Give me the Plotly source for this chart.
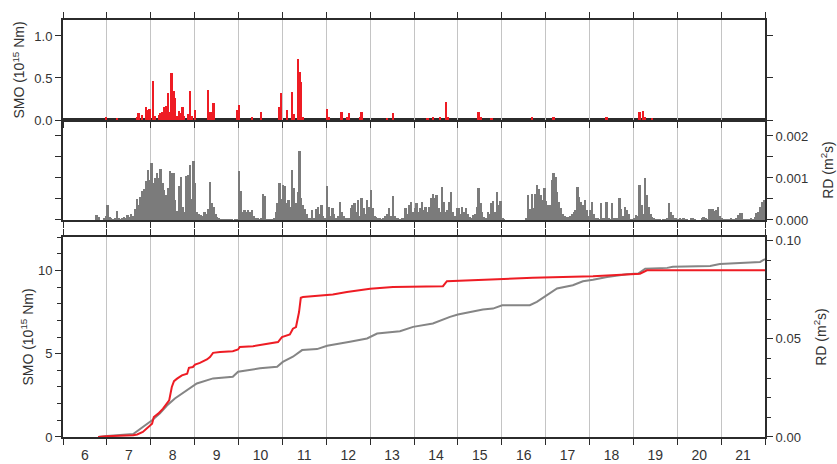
import plotly.graph_objects as go

# ---------------- data ----------------
day_labels = [str(d) for d in range(6, 22)]
day_starts = list(range(6, 22))

# hourly RD values per day (units of 1e-4 m^2 s), 24 hourly bins each
rd_d06 = [0, 0, 0, 0, 0, 0, 0, 0, 0, 0, 0, 0, 0, 0, 0, 0, 0, 0, 1.3, 0.6, 0, 0, 0.5, 1.0]
rd_d07 = [3.5, 0.8, 0.3, 0.2, 0.5, 2.1, 0.5, 0.2, 0.3, 0.6, 0.4, 1.2, 0.6, 1.5, 1.0, 2.5, 5.0, 3.5, 5.5, 7.0, 7.3, 9.3, 11.9, 9.5]
rd_d08 = [13.5, 8.7, 9.9, 11.1, 10.0, 12.1, 8.7, 7.1, 6.0, 7.5, 11.7, 11.3, 11.3, 4.8, 2.2, 8.0, 10.3, 3.0, 2.0, 10.5, 10.7, 13.0, 5.0, 14.1]
rd_d09 = [8.7, 2.0, 1.5, 1.2, 1.0, 1.8, 1.5, 2.5, 9.0, 4.0, 3.0, 1.5, 0.8, 0.5, 0.2, 0.2, 0.1, 0.1, 0.1, 0.1, 0.1, 0, 0.1, 0.2]
rd_d10 = [11.7, 7.0, 2.0, 2.4, 2.0, 2.4, 2.0, 2.3, 1.0, 0.5, 0.3, 0.2, 0.3, 6.1, 5.8, 0.2, 0.1, 0.1, 0.1, 0.5, 2.0, 4.0, 8.7, 5.0]
rd_d11 = [8.3, 8.0, 4.0, 4.8, 3.0, 12.0, 7.5, 4.0, 6.7, 16.4, 5.2, 3.6, 2.5, 1.5, 0.5, 0.5, 2.3, 0.5, 2.5, 3.2, 1.5, 3.5, 1.0, 0.5]
rd_d12 = [8.1, 3.0, 1.0, 2.8, 1.5, 0.5, 1.0, 4.4, 2.0, 1.0, 0.5, 0.3, 0.5, 2.8, 3.5, 4.0, 2.0, 4.8, 1.0, 5.2, 2.8, 1.5, 4.8, 3.0]
rd_d13 = [7.1, 2.8, 1.0, 0.8, 0.5, 0.3, 0.2, 0.3, 1.0, 1.5, 2.8, 1.0, 5.6, 1.0, 0.5, 0.3, 0.2, 0.5, 0.5, 2.8, 1.5, 3.5, 4.4, 2.0]
rd_d14 = [2.8, 4.0, 1.8, 2.8, 4.4, 2.4, 3.2, 2.0, 3.2, 5.3, 6.3, 5.3, 6.0, 2.8, 2.0, 7.9, 4.4, 2.0, 2.4, 4.4, 6.7, 2.0, 1.0, 2.8]
rd_d15 = [2.8, 1.5, 3.0, 2.0, 2.8, 1.5, 0.8, 0.5, 1.2, 1.5, 3.0, 7.7, 4.0, 2.0, 0.8, 0.5, 2.0, 1.5, 4.0, 4.5, 2.0, 6.7, 3.6, 4.5]
rd_d16 = [0.3, 0.2, 0, 0, 0, 0, 0, 0, 0, 0, 0, 0, 0, 0.5, 6.0, 2.5, 6.1, 2.8, 6.3, 8.3, 7.3, 6.0, 4.8, 7.5]
rd_d17 = [4.5, 3.6, 3.6, 9.5, 11.1, 10.3, 6.7, 4.4, 2.8, 1.5, 1.0, 0.8, 0.8, 1.0, 1.5, 2.0, 2.4, 7.9, 5.5, 4.4, 3.5, 4.8, 2.4, 1.0]
rd_d18 = [2.4, 4.4, 1.5, 0.5, 0.3, 0.2, 4.0, 0.5, 0.5, 4.4, 0.3, 0.2, 4.0, 0.5, 0.3, 0.5, 5.2, 2.5, 1.0, 3.2, 2.4, 1.5, 0.2, 0.1]
rd_d19 = [0.5, 1.3, 1.0, 8.3, 3.6, 1.5, 9.9, 6.0, 3.0, 1.5, 0.8, 0.3, 0.2, 0.1, 0.1, 0, 0.1, 0.2, 0.3, 4.0, 2.0, 1.2, 0.5, 0.3]
rd_d20 = [0.2, 0.5, 0.1, 0.4, 0.2, 0.1, 0, 0.4, 0.3, 0.1, 0, 0, 0, 0.3, 0.6, 0.4, 0.1, 2.6, 2.5, 2.6, 2.2, 2.4, 3.2, 1.0]
rd_d21 = [0.3, 0.2, 0.1, 0.2, 0.1, 0.3, 0.2, 0.1, 0.5, 1.3, 1.6, 1.7, 0.2, 0.1, 0.1, 0.2, 0.3, 0.2, 0.8, 1.6, 2.0, 3.2, 4.4, 4.8]
rd_hourly = [rd_d06, rd_d07, rd_d08, rd_d09, rd_d10, rd_d11, rd_d12, rd_d13,
             rd_d14, rd_d15, rd_d16, rd_d17, rd_d18, rd_d19, rd_d20, rd_d21]

# hourly SMO (10^15 Nm) bars: day, hour, value
smo_day = [6, 7, 7, 7, 7, 7, 7, 7,
           8, 8, 8, 8, 8, 8, 8, 8, 8, 8, 8, 8, 8, 8, 8, 8, 8, 8, 8, 8,
           9, 9, 9, 9, 9, 9,
           10, 10, 10, 10, 10,
           11, 11, 11, 11, 11, 11, 11,
           12, 12, 12, 12, 12, 12, 12,
           13, 13,
           14, 14, 14, 14, 14,
           15, 15, 15,
           16, 17, 18,
           19, 19, 19, 19]
smo_hour = [23, 5, 16, 17, 19, 21, 22, 23,
            1, 2, 4, 5, 6, 7, 8, 9, 10, 11, 12, 13, 14, 15, 16, 17, 18, 20, 21, 22,
            0, 7, 8, 9, 10, 23,
            0, 7, 12, 22, 23,
            2, 5, 6, 8, 9, 10, 11,
            0, 1, 8, 11, 12, 18, 19,
            9, 12,
            7, 10, 14, 17, 18,
            11, 12, 18,
            16, 4, 9,
            3, 5, 6, 10]
smo_val = [0.04, 0.02, 0.04, 0.08, 0.06, 0.16, 0.12, 0.13,
           0.47, 0.05, 0.06, 0.08, 0.10, 0.15, 0.17, 0.32, 0.10, 0.56, 0.35, 0.26, 0.05, 0.11, 0.08, 0.16, 0.05, 0.07, 0.35, 0.05,
           0.12, 0.36, 0.10, 0.10, 0.20, 0.12,
           0.18, 0.03, 0.10, 0.15, 0.32,
           0.12, 0.33, 0.07, 0.73, 0.57, 0.45, 0.04,
           0.13, 0.04, 0.09, 0.04, 0.08, 0.04, 0.10,
           0.02, 0.08,
           0.02, 0.03, 0.04, 0.21, 0.03,
           0.10, 0.03, 0.02,
           0.04, 0.03, 0.03,
           0.09, 0.11, 0.03, 0.02]

# cumulative SMO (10^15 Nm)
cum_smo_t = [6.80, 7.00, 7.60, 7.69, 7.82, 8.03, 8.07, 8.17, 8.28, 8.37, 8.42, 8.48, 8.53, 8.60,
             8.71, 8.83, 8.87, 8.96, 9.01, 9.12, 9.28, 9.35, 9.42, 9.58, 9.87, 9.99, 10.03,
             10.33, 10.56, 10.90, 10.99, 11.17, 11.24, 11.31, 11.38, 11.42, 11.47, 11.97,
             12.15, 12.47, 12.77, 13.00, 13.52, 14.66, 14.75, 15.57, 16.71, 18.08, 19.02,
             19.15, 19.31, 22.0]
cum_smo_v = [0, 0.05, 0.1, 0.15, 0.3, 0.8, 1.2, 1.4, 1.7, 2.0, 2.2, 3.0, 3.35, 3.5,
             3.7, 3.8, 4.15, 4.2, 4.35, 4.45, 4.65, 4.8, 5.05, 5.1, 5.15, 5.25, 5.4,
             5.45, 5.55, 5.7, 6.0, 6.15, 6.5, 6.6, 7.5, 8.35, 8.4, 8.5,
             8.55, 8.7, 8.8, 8.9, 9.0, 9.05, 9.35, 9.45, 9.55, 9.65, 9.75,
             9.8, 10.0, 10.0]

# cumulative RD (m^2 s)
cum_rd_t = [6.80, 7.00, 7.60, 7.82, 8.03, 8.21, 8.37, 8.55, 8.83, 9.05, 9.42, 9.87, 9.99,
            10.49, 10.88, 11.01, 11.24, 11.45, 11.79, 12.02, 12.54, 12.93, 13.16, 13.68,
            13.98, 14.43, 14.82, 15.00, 15.57, 15.80, 16.01, 16.64, 16.80, 17.03, 17.26,
            17.62, 17.85, 18.08, 18.40, 18.85, 19.11, 19.27, 19.77, 19.90, 20.75, 20.97,
            21.66, 21.89, 22.0]
cum_rd_v = [0, 0.0005, 0.0015, 0.005, 0.0085, 0.012, 0.016, 0.0196, 0.0239, 0.0272, 0.0298, 0.0306, 0.0332,
            0.0349, 0.0357, 0.0382, 0.0408, 0.0442, 0.0447, 0.0464, 0.0484, 0.0501, 0.0526, 0.0538,
            0.056, 0.0577, 0.0611, 0.0623, 0.0648, 0.0653, 0.067, 0.067, 0.0687, 0.072, 0.0755,
            0.0772, 0.0792, 0.08, 0.0814, 0.0827, 0.0831, 0.0856, 0.086, 0.0866, 0.087, 0.088,
            0.0885, 0.089, 0.0905]

# ---------------- styling ----------------
RED = "#ee1c24"
GRAY_BAR = "#7b7b7b"
GRAY_LINE = "#858585"
AX = "#2b2b2b"
GRID = "#c4c4c4"
FONT = "Liberation Sans, Arial, sans-serif"
XR = [6, 22]

rd_x, rd_y = [], []
for d, vals in zip(day_starts, rd_hourly):
    for h, v in enumerate(vals):
        rd_x.append(d + (h + 0.5) / 24)
        rd_y.append(v * 1e-4)

smo_x = [d + (h + 0.5) / 24 for d, h in zip(smo_day, smo_hour)]

fig = go.Figure()
fig.add_trace(go.Bar(x=smo_x, y=smo_val, width=1 / 24, xaxis="x3", yaxis="y4",
                     marker=dict(color=RED, line=dict(width=0)), showlegend=False))
fig.add_trace(go.Bar(x=rd_x, y=rd_y, width=1 / 24, xaxis="x2", yaxis="y2",
                     marker=dict(color=GRAY_BAR, line=dict(width=0)), showlegend=False))
fig.add_trace(go.Scatter(x=cum_rd_t, y=cum_rd_v, mode="lines", xaxis="x", yaxis="y",
                         line=dict(color=GRAY_LINE, width=2), showlegend=False))
fig.add_trace(go.Scatter(x=cum_smo_t, y=cum_smo_v, mode="lines", xaxis="x", yaxis="y3",
                         line=dict(color=RED, width=2), showlegend=False))

tickfont = dict(family=FONT, size=13, color="#333333")
xtickfont = dict(family=FONT, size=14, color="#333333")
titlefont = dict(family=FONT, size=14, color="#333333")

# major (labelled) ticks sit mid-day, invisible; minor ticks at day boundaries carry grid
common_x = dict(range=XR, tickvals=[d + 0.5 for d in day_starts], ticktext=day_labels,
                ticks="outside", ticklen=4, tickcolor="rgba(0,0,0,0)",
                showline=True, linecolor=AX, linewidth=2, showgrid=False, zeroline=False,
                mirror="allticks", tickfont=xtickfont, automargin=False,
                minor=dict(dtick=1, tick0=0, ticks="outside", ticklen=6, tickcolor=AX,
                           tickwidth=1, showgrid=True, gridcolor=GRID, gridwidth=1))

bot = [0, 0.4796]
mid = [0.5204, 0.7602]
top = [0.7602, 1.0]

fig.update_layout(
    width=837, height=464,
    margin=dict(l=63, r=72, t=20, b=27, autoexpand=False),
    paper_bgcolor="white", plot_bgcolor="white",
    bargap=0, barmode="overlay",
    xaxis=dict(common_x, anchor="y", domain=[0, 1], showticklabels=True),
    xaxis2=dict(common_x, anchor="y2", domain=[0, 1], mirror=True, showticklabels=False),
    xaxis3=dict(common_x, anchor="y4", domain=[0, 1], showticklabels=False),
    # bottom panel: RD (right, base) and SMO (left, overlay)
    yaxis=dict(domain=bot, anchor="x", side="right", range=[0, 0.1017], automargin=False,
               tickvals=[0, 0.05, 0.10], ticktext=["0.00", "0.05", "0.10"],
               ticks="outside", ticklen=6, tickcolor=AX, showline=True, linecolor=AX, linewidth=2,
               minor=dict(dtick=0.01, tick0=0, ticks="outside", ticklen=4, tickcolor=AX, showgrid=False),
               showgrid=False, zeroline=False, tickfont=tickfont,
               title=dict(text="RD (m<sup>2</sup>s)", font=titlefont, standoff=16)),
    yaxis3=dict(overlaying="y", anchor="x", side="left", range=[0, 12.0], automargin=False,
                tickvals=[0, 5, 10], ticktext=["0", "5", "10"],
                ticks="outside", ticklen=6, tickcolor=AX, showline=True, linecolor=AX, linewidth=2,
                minor=dict(dtick=1, tick0=0, ticks="outside", ticklen=4, tickcolor=AX, showgrid=False),
                showgrid=False, zeroline=False, tickfont=tickfont,
                title=dict(text="SMO (10<sup>15</sup> Nm)", font=titlefont, standoff=1)),
    # middle panel: RD bars
    yaxis2=dict(domain=mid, anchor="x2", side="right", range=[0, 0.00238], automargin=False,
                tickvals=[0, 0.001, 0.002], ticktext=["0.000", "0.001", "0.002"],
                ticks="outside", ticklen=6, tickcolor=AX, showline=True, linecolor=AX, linewidth=2,
                mirror="allticks",
                minor=dict(tickvals=[0.0005, 0.0015], ticks="outside", ticklen=6, tickcolor=AX, showgrid=False),
                showgrid=False, zeroline=False, tickfont=tickfont,
                title=dict(text="RD (m<sup>2</sup>s)", font=titlefont, standoff=16)),
    # top panel: SMO bars
    yaxis4=dict(domain=top, anchor="x3", side="left", range=[0, 1.19], automargin=False,
                tickvals=[0, 0.5, 1.0], ticktext=["0.0", "0.5", "1.0"],
                ticks="outside", ticklen=6, tickcolor=AX, showline=True, linecolor=AX, linewidth=2,
                mirror="allticks", showgrid=False, zeroline=False, tickfont=tickfont,
                title=dict(text="SMO (10<sup>15</sup> Nm)", font=titlefont, standoff=6)),
    font=dict(family=FONT, color="#333333"),
)

fig.write_html("out.html")
